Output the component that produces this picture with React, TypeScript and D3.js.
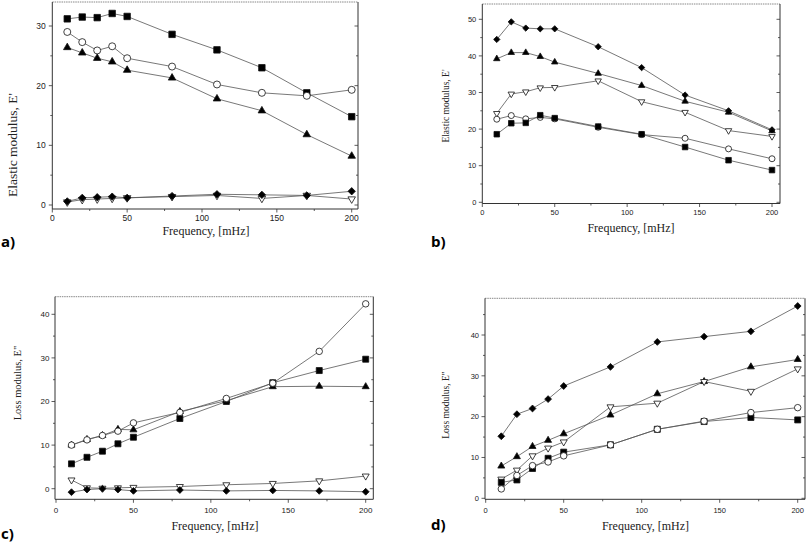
import React from 'react';
import * as d3 from 'd3';

const freq = [10, 20, 30, 40, 50, 80, 110, 140, 170, 200];
const xMajorTicks = [0, 50, 100, 150, 200];
const xMinorTicks = [25, 75, 125, 175];

// Panel a) Elastic modulus
const aSquare = [31.2, 31.5, 31.4, 32.1, 31.6, 28.6, 26.0, 23.0, 18.8, 14.8];
const aCircle = [29.0, 27.3, 25.9, 26.6, 24.6, 23.2, 20.2, 18.8, 18.3, 19.3];
const aTriangle = [26.4, 25.5, 24.6, 24.0, 22.6, 21.3, 17.8, 15.8, 11.8, 8.2];
const aDiamond = [0.6, 1.2, 1.3, 1.4, 1.2, 1.5, 1.8, 1.7, 1.6, 2.3];
const aInvTriangle = [0.5, 0.9, 1.0, 1.1, 1.2, 1.4, 1.6, 1.1, 1.6, 1.0];
const aYTicks = [0, 10, 20, 30];

// Panel b) Elastic modulus
const bDiamond = [44.5, 49.3, 47.6, 47.4, 47.4, 42.5, 36.8, 29.3, 25.0, 19.8];
const bTriangle = [39.2, 40.9, 40.9, 39.8, 38.3, 35.2, 31.9, 27.6, 24.6, 19.5];
const bInvTriangle = [24.3, 29.6, 30.2, 31.3, 31.4, 33.2, 27.5, 24.6, 19.6, 18.0];
const bCircle = [22.7, 23.7, 22.8, 23.2, 22.8, 20.5, 18.5, 17.5, 14.6, 11.9];
const bSquare = [18.6, 21.6, 21.7, 23.8, 23.0, 20.7, 18.6, 15.1, 11.5, 8.8];
const bYTicks = [0, 10, 20, 30, 40, 50];

// Panel c) Loss modulus
const cCircle = [10.0, 11.2, 12.2, 13.2, 15.1, 17.5, 20.7, 24.2, 31.5, 42.4];
const cTriangle = [10.0, 11.3, 12.2, 13.6, 13.5, 17.7, 20.2, 23.4, 23.5, 23.4];
const cSquare = [5.7, 7.2, 8.6, 10.3, 11.8, 16.1, 20.0, 24.3, 27.1, 29.7];
const cInvTriangle = [2.0, 0.2, 0.1, 0.2, 0.3, 0.5, 0.9, 1.2, 1.8, 2.9];
const cDiamond = [-0.8, -0.2, 0.0, -0.2, -0.5, -0.3, -0.5, -0.4, -0.5, -0.7];
const cYTicks = [0, 10, 20, 30, 40];

// Panel d) Loss modulus
const dDiamond = [15.2, 20.6, 22.0, 24.3, 27.5, 32.2, 38.3, 39.6, 40.9, 47.1];
const dTriangle = [7.9, 10.2, 12.7, 14.2, 15.8, 20.4, 25.6, 28.6, 32.2, 34.0];
const dInvTriangle = [4.7, 6.9, 10.4, 12.3, 13.8, 22.4, 23.3, 28.6, 26.2, 31.7];
const dSquare = [3.9, 4.5, 7.3, 9.8, 11.3, 13.1, 16.9, 18.8, 19.8, 19.2];
const dCircle = [2.3, 5.6, 8.0, 8.9, 10.4, 13.1, 16.9, 18.9, 21.0, 22.2];
const dYTicks = [0, 10, 20, 30, 40];

const xTitle = 'Frequency, [mHz]';
const elasticTitle = "Elastic modulus, E'";
const lossTitle = 'Loss modulus, E"';

type Shape = 'square' | 'circle' | 'triangle' | 'diamond' | 'invtriangle';
type Series = { shape: Shape; values: number[] };

type Panel = {
  label: string;
  labelPos: [number, number];
  series: Series[];
  yTicks: number[];
  yTitle: string;
  // layout
  x0: number; x200: number;
  yRefVal: number; y0: number; yRef: number;
  frame: { l: number; r: number; t: number; b: number };
  tickFont: number;
  yLabelGap: number;
  xLabelBase: number;
  xTitlePos: [number, number];
  yTitlePos: [number, number];
  yTitleFont: number;
  marker: number;
};

const panels: Panel[] = [
  {
    label: 'a)', labelPos: [1, 247],
    series: [
      { shape: 'square', values: aSquare },
      { shape: 'circle', values: aCircle },
      { shape: 'triangle', values: aTriangle },
      { shape: 'invtriangle', values: aInvTriangle },
      { shape: 'diamond', values: aDiamond },
    ],
    yTicks: aYTicks, yTitle: elasticTitle,
    x0: 52.3, x200: 351.7, yRefVal: 30, y0: 205, yRef: 26,
    frame: { l: 52.3, r: 358, t: 2, b: 209 },
    tickFont: 8.5, yLabelGap: 6.5, xLabelBase: 220.5,
    xTitlePos: [206, 234.5], yTitlePos: [17, 145], yTitleFont: 13.5, marker: 7,
  },
  {
    label: 'b)', labelPos: [431, 247],
    series: [
      { shape: 'diamond', values: bDiamond },
      { shape: 'triangle', values: bTriangle },
      { shape: 'invtriangle', values: bInvTriangle },
      { shape: 'circle', values: bCircle },
      { shape: 'square', values: bSquare },
    ],
    yTicks: bYTicks, yTitle: elasticTitle,
    x0: 482.3, x200: 772, yRefVal: 50, y0: 202.3, yRef: 19.3,
    frame: { l: 482.3, r: 780, t: 4, b: 203.5 },
    tickFont: 7.5, yLabelGap: 6, xLabelBase: 215,
    xTitlePos: [631, 232], yTitlePos: [448.5, 106], yTitleFont: 9.5, marker: 6,
  },
  {
    label: 'c)', labelPos: [1, 539],
    series: [
      { shape: 'square', values: cSquare },
      { shape: 'triangle', values: cTriangle },
      { shape: 'circle', values: cCircle },
      { shape: 'invtriangle', values: cInvTriangle },
      { shape: 'diamond', values: cDiamond },
    ],
    yTicks: cYTicks, yTitle: lossTitle,
    x0: 56, x200: 365.7, yRefVal: 40, y0: 488.7, yRef: 314.3,
    frame: { l: 55, r: 373.3, t: 296.7, b: 499.3 },
    tickFont: 8, yLabelGap: 5.5, xLabelBase: 513,
    xTitlePos: [215, 530], yTitlePos: [20.5, 383], yTitleFont: 10.5, marker: 6.5,
  },
  {
    label: 'd)', labelPos: [431, 530],
    series: [
      { shape: 'diamond', values: dDiamond },
      { shape: 'triangle', values: dTriangle },
      { shape: 'invtriangle', values: dInvTriangle },
      { shape: 'square', values: dSquare },
      { shape: 'circle', values: dCircle },
    ],
    yTicks: dYTicks, yTitle: lossTitle,
    x0: 485.7, x200: 797.7, yRefVal: 40, y0: 498.3, yRef: 335,
    frame: { l: 485, r: 805, t: 298.3, b: 499.3 },
    tickFont: 7.5, yLabelGap: 6, xLabelBase: 513,
    xTitlePos: [645.5, 530], yTitlePos: [448.5, 405], yTitleFont: 9.5, marker: 6.5,
  },
];

const lineColor = '#555';
const axisColor = '#333';

function markerPath(shape: Shape, s: number): { d: string; rotate: number; fill: string } {
  switch (shape) {
    case 'square':
      return { d: d3.symbol(d3.symbolSquare, s * s * 0.85)()!, rotate: 0, fill: '#000' };
    case 'circle':
      return { d: d3.symbol(d3.symbolCircle, Math.PI * (s / 2) * (s / 2))()!, rotate: 0, fill: '#fff' };
    case 'triangle':
      return { d: d3.symbol(d3.symbolTriangle, s * s * 0.5)()!, rotate: 0, fill: '#000' };
    case 'invtriangle':
      return { d: d3.symbol(d3.symbolTriangle, s * s * 0.5)()!, rotate: 180, fill: '#fff' };
    case 'diamond':
    default:
      return { d: d3.symbol(d3.symbolSquare, s * s * 0.55)()!, rotate: 45, fill: '#000' };
  }
}

function PanelView({ p }: { p: Panel }) {
  const x = d3.scaleLinear().domain([0, 200]).range([p.x0, p.x200]);
  const y = d3.scaleLinear().domain([0, p.yRefVal]).range([p.y0, p.yRef]);
  const { l, r, t, b } = p.frame;
  const yMin = y.invert(b);
  const yMax = y.invert(t);
  const yMinor = d3.range(Math.ceil(yMin / 5) * 5, yMax, 5).filter((v) => Math.abs(v % 10) > 0.01 && v < yMax);
  const line = d3.line<number>().x((_, i) => x(freq[i])).y((v) => y(v));
  return (
    <g>
      {/* frame */}
      <line x1={l} x2={r} y1={t} y2={t} stroke="#888" strokeWidth={1} strokeDasharray="1.5,0.8" />
      <line x1={l} x2={l} y1={t} y2={b} stroke={axisColor} strokeWidth={1} />
      <line x1={r} x2={r} y1={t} y2={b} stroke={axisColor} strokeWidth={1} />
      <line x1={l} x2={r} y1={b} y2={b} stroke={axisColor} strokeWidth={1} />
      {/* x ticks */}
      {xMajorTicks.map((v) => (
        <g key={'xm' + v}>
          <line x1={x(v)} x2={x(v)} y1={b} y2={b + 3.5} stroke={axisColor} strokeWidth={0.8} />
          <text x={x(v)} y={p.xLabelBase} fontSize={p.tickFont} textAnchor="middle" fontFamily="Liberation Sans, Arial, sans-serif" fill="#222">{v}</text>
        </g>
      ))}
      {xMinorTicks.map((v) => (
        <line key={'xn' + v} x1={x(v)} x2={x(v)} y1={b} y2={b + 2} stroke={axisColor} strokeWidth={0.8} />
      ))}
      {/* y ticks */}
      {p.yTicks.map((v) => (
        <g key={'ym' + v}>
          <line x1={l - 3.5} x2={l} y1={y(v)} y2={y(v)} stroke={axisColor} strokeWidth={0.8} />
          <line x1={r - 3.5} x2={r} y1={y(v)} y2={y(v)} stroke={axisColor} strokeWidth={0.8} />
          <text x={l - p.yLabelGap} y={y(v) + p.tickFont * 0.36} fontSize={p.tickFont} textAnchor="end" fontFamily="Liberation Sans, Arial, sans-serif" fill="#222">{v}</text>
        </g>
      ))}
      {yMinor.map((v) => (
        <g key={'yn' + v}>
          <line x1={l - 2} x2={l} y1={y(v)} y2={y(v)} stroke={axisColor} strokeWidth={0.8} />
          <line x1={r - 2} x2={r} y1={y(v)} y2={y(v)} stroke={axisColor} strokeWidth={0.8} />
        </g>
      ))}
      {/* series */}
      {p.series.map((s, si) => (
        <path key={'l' + si} d={line(s.values)!} fill="none" stroke={lineColor} strokeWidth={0.8} />
      ))}
      {p.series.map((s, si) => {
        const m = markerPath(s.shape, p.marker);
        return s.values.map((v, i) => (
          <path
            key={'m' + si + '-' + i}
            d={m.d}
            transform={`translate(${x(freq[i])},${y(v)}) rotate(${m.rotate})`}
            fill={m.fill}
            stroke="#111"
            strokeWidth={0.8}
          />
        ));
      })}
      {/* titles */}
      <text x={p.xTitlePos[0]} y={p.xTitlePos[1]} fontSize={12} textAnchor="middle" fontFamily="Liberation Serif, Times New Roman, serif" fill="#222">{xTitle}</text>
      <text transform={`translate(${p.yTitlePos[0]},${p.yTitlePos[1]}) rotate(-90)`} fontSize={p.yTitleFont} textAnchor="middle" fontFamily="Liberation Serif, Times New Roman, serif" fill="#222">{p.yTitle}</text>
      <text x={p.labelPos[0]} y={p.labelPos[1]} fontSize={15} fontWeight="bold" fontFamily="Open Sans, Liberation Sans, sans-serif" fill="#000">{p.label}</text>
    </g>
  );
}

export default function App() {
  return (
    <svg width={808} height={542} style={{ position: 'absolute', left: 0, top: 0, background: '#fff' }}>
      <rect x={0} y={0} width={808} height={542} fill="#fff" />
      {panels.map((p) => (
        <PanelView key={p.label} p={p} />
      ))}
    </svg>
  );
}
